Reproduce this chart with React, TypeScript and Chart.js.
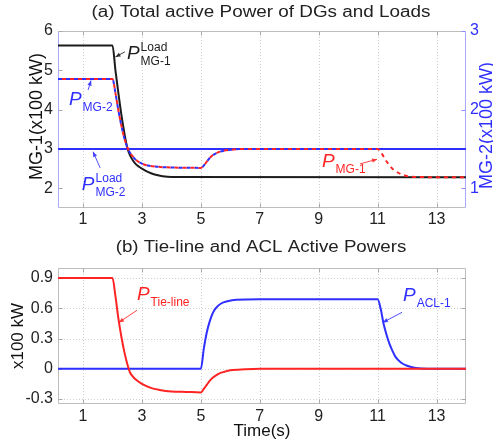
import React, { useEffect, useRef } from "react";
import { Chart, registerables } from "chart.js";
Chart.register(...registerables);

const FONT = "'Liberation Sans', Arial, Helvetica, sans-serif";
const RED = "#ff2424";
const BLUE = "#2f2fff";
const BLACK = "#1c1c1c";

// ---------- (a) Total active Power of DGs and Loads ----------
const tLoadMG1 = [0.15, 2.0, 2.1, 2.2, 2.3, 2.4, 2.5, 2.6, 2.7, 2.8, 2.9, 3.0, 3.2, 3.4, 3.7, 4.0, 14];
const pLoadMG1 = [5.63, 5.63, 5.0, 4.42, 3.88, 3.42, 3.04, 2.83, 2.7, 2.61, 2.55, 2.5, 2.42, 2.36, 2.31, 2.29, 2.28];

const tMG1 = [0.15, 2.0, 2.1, 2.2, 2.3, 2.4, 2.5, 2.6, 2.7, 2.8, 3.0, 3.2, 3.5, 4.0, 5.0, 5.1, 5.2, 5.3, 5.4, 5.6, 5.8, 6.0, 6.5, 11.0, 11.1, 11.2, 11.3, 11.4, 11.5, 11.6, 11.8, 12.0, 12.3, 14];
const pMG1 = [4.78, 4.78, 4.42, 3.98, 3.6, 3.28, 3.05, 2.9, 2.8, 2.72, 2.63, 2.58, 2.55, 2.53, 2.52, 2.58, 2.68, 2.77, 2.84, 2.92, 2.96, 2.98, 3.0, 3.0, 2.93, 2.81, 2.69, 2.59, 2.5, 2.44, 2.36, 2.31, 2.29, 2.28];

const tMG2 = [0.15, 2.0, 2.1, 2.2, 2.3, 2.4, 2.5, 2.6, 2.7, 2.8, 3.0, 3.2, 3.5, 4.0, 5.0, 5.1, 5.2, 5.3, 5.4, 5.6, 5.8, 6.0, 6.5, 14];
const pMG2 = [2.39, 2.39, 2.21, 1.99, 1.8, 1.64, 1.525, 1.45, 1.4, 1.36, 1.315, 1.29, 1.275, 1.265, 1.26, 1.29, 1.34, 1.385, 1.42, 1.46, 1.48, 1.49, 1.5, 1.5];

const tLoadMG2 = [0.15, 14];
const pLoadMG2 = [1.5, 1.5];

// ---------- (b) Tie-line and ACL Active Powers ----------
const tTie = [0.15, 2.0, 2.1, 2.2, 2.3, 2.4, 2.5, 2.6, 2.7, 2.8, 3.0, 3.3, 3.6, 4.0, 4.5, 5.0, 5.1, 5.2, 5.3, 5.4, 5.6, 5.8, 6.0, 6.5, 7.0, 14];
const pTie = [0.9, 0.9, 0.72, 0.5, 0.32, 0.17, 0.05, -0.04, -0.08, -0.11, -0.15, -0.19, -0.21, -0.225, -0.23, -0.235, -0.2, -0.16, -0.12, -0.09, -0.05, -0.03, -0.015, -0.005, 0, 0];

const tACL = [0.15, 5.0, 5.1, 5.2, 5.3, 5.4, 5.5, 5.7, 5.9, 6.2, 7.0, 11.0, 11.1, 11.2, 11.3, 11.4, 11.5, 11.6, 11.8, 12.0, 12.3, 12.7, 14];
const pACL = [0, 0, 0.2, 0.36, 0.47, 0.55, 0.6, 0.65, 0.67, 0.685, 0.69, 0.69, 0.6, 0.45, 0.34, 0.25, 0.18, 0.12, 0.06, 0.03, 0.008, 0, 0];

// ---------- ticks ----------
const xTicks = [1, 3, 5, 7, 9, 11, 13];
const yTicksA = [2, 3, 4, 5, 6];
const yTicksA2 = [1, 2, 3];
const yTicksB = [-0.3, 0, 0.3, 0.6, 0.9];

const pts = (t: number[], v: number[]) => t.map((x, i) => ({ x, y: v[i] }));

type Anno = { t: number; v: number; sup?: string; sub: string; color: string; arrow: number[] };

const annosA: Anno[] = [
  { t: 2.49, v: 5.3, sup: "Load", sub: "MG-1", color: BLACK, arrow: [2.42, 5.47, 2.1, 5.34] },
  { t: 0.52, v: 4.11, sub: "MG-2", color: BLUE, arrow: [1.17, 4.5, 1.27, 4.74] },
  { t: 0.96, v: 1.97, sup: "Load", sub: "MG-2", color: BLUE, arrow: [1.58, 2.52, 1.34, 2.93] },
  { t: 9.11, v: 2.53, sub: "MG-1", color: RED, arrow: [10.4, 2.62, 10.98, 2.74] },
];
const annosB: Anno[] = [
  { t: 2.83, v: 0.68, sub: "Tie-line", color: RED, arrow: [2.83, 0.58, 2.22, 0.46] },
  { t: 11.86, v: 0.67, sub: "ACL-1", color: BLUE, arrow: [11.83, 0.56, 11.18, 0.46] },
];

function drawArrow(ctx: CanvasRenderingContext2D, x1: number, y1: number, x2: number, y2: number, color: string) {
  ctx.save();
  ctx.strokeStyle = color;
  ctx.fillStyle = color;
  ctx.globalAlpha = 0.85;
  ctx.lineWidth = 1;
  ctx.beginPath();
  ctx.moveTo(x1, y1);
  ctx.lineTo(x2, y2);
  ctx.stroke();
  const a = Math.atan2(y2 - y1, x2 - x1);
  const L = 5, W = 2.2;
  ctx.beginPath();
  ctx.moveTo(x2, y2);
  ctx.lineTo(x2 - L * Math.cos(a) + W * Math.sin(a), y2 - L * Math.sin(a) - W * Math.cos(a));
  ctx.lineTo(x2 - L * Math.cos(a) - W * Math.sin(a), y2 - L * Math.sin(a) + W * Math.cos(a));
  ctx.closePath();
  ctx.fill();
  ctx.restore();
}

function drawAnnos(chart: any, annos: Anno[]) {
  const ctx: CanvasRenderingContext2D = chart.ctx;
  const xs = chart.scales.x, ys = chart.scales.y;
  annos.forEach((a) => {
    const x = xs.getPixelForValue(a.t), y = ys.getPixelForValue(a.v);
    ctx.save();
    ctx.fillStyle = a.color;
    ctx.textBaseline = "alphabetic";
    ctx.textAlign = "left";
    ctx.font = `italic 19px ${FONT}`;
    ctx.fillText("P", x, y);
    const pw = ctx.measureText("P").width;
    ctx.font = `12px ${FONT}`;
    if (a.sup) ctx.fillText(a.sup, x + pw + 1, y - 8);
    ctx.fillText(a.sub, x + pw + 1, y + 6);
    ctx.restore();
    const [t1, v1, t2, v2] = a.arrow;
    drawArrow(ctx, xs.getPixelForValue(t1), ys.getPixelForValue(v1), xs.getPixelForValue(t2), ys.getPixelForValue(v2), a.color);
  });
}

function drawFrame(chart: any, opts: { hGrid: boolean; leftColor: string; rightColor: string; right2?: boolean }) {
  const ctx: CanvasRenderingContext2D = chart.ctx;
  const { left, right, top, bottom } = chart.chartArea;
  const xs = chart.scales.x, ys = chart.scales.y;
  ctx.save();
  ctx.strokeStyle = "#cfcfcf";
  ctx.lineWidth = 1;
  ctx.setLineDash([1, 2]);
  xTicks.forEach((t) => {
    const px = Math.round(xs.getPixelForValue(t)) + 0.5;
    ctx.beginPath();
    ctx.moveTo(px, top);
    ctx.lineTo(px, bottom);
    ctx.stroke();
  });
  if (opts.hGrid) {
    ys.ticks.forEach((tk: any) => {
      const py = Math.round(ys.getPixelForValue(tk.value)) + 0.5;
      ctx.beginPath();
      ctx.moveTo(left, py);
      ctx.lineTo(right, py);
      ctx.stroke();
    });
  }
  ctx.setLineDash([]);
  const L = Math.round(left) + 0.5, R = Math.round(right) - 0.5, T = Math.round(top) + 0.5, B = Math.round(bottom) - 0.5;
  ctx.strokeStyle = "#bdbdbd";
  ctx.beginPath();
  ctx.moveTo(L, T); ctx.lineTo(R, T);
  ctx.moveTo(L, B); ctx.lineTo(R, B);
  ctx.stroke();
  ctx.strokeStyle = opts.leftColor;
  ctx.beginPath(); ctx.moveTo(L, T); ctx.lineTo(L, B); ctx.stroke();
  ctx.strokeStyle = opts.rightColor;
  ctx.beginPath(); ctx.moveTo(R, T); ctx.lineTo(R, B); ctx.stroke();
  ctx.strokeStyle = "#a8a8a8";
  xTicks.forEach((t) => {
    const px = Math.round(xs.getPixelForValue(t)) + 0.5;
    ctx.beginPath();
    ctx.moveTo(px, B); ctx.lineTo(px, B - 4);
    ctx.moveTo(px, T); ctx.lineTo(px, T + 4);
    ctx.stroke();
  });
  ys.ticks.forEach((tk: any) => {
    const py = Math.round(ys.getPixelForValue(tk.value)) + 0.5;
    ctx.beginPath();
    ctx.moveTo(L, py); ctx.lineTo(L + 4, py);
    if (!opts.right2) { ctx.moveTo(R, py); ctx.lineTo(R - 4, py); }
    ctx.stroke();
  });
  if (opts.right2) {
    const y2 = chart.scales.y1;
    ctx.strokeStyle = "#8c8cff";
    y2.ticks.forEach((tk: any) => {
      const py = Math.round(y2.getPixelForValue(tk.value)) + 0.5;
      ctx.beginPath();
      ctx.moveTo(R, py); ctx.lineTo(R - 4, py);
      ctx.stroke();
    });
  }
  ctx.restore();
}

function drawText(ctx: CanvasRenderingContext2D, text: string, x: number, y: number, font: string, color: string, rot = 0, sx = 1) {
  ctx.save();
  ctx.translate(x, y);
  ctx.rotate(rot);
  ctx.scale(sx, 1);
  ctx.font = font;
  ctx.fillStyle = color;
  ctx.textAlign = "center";
  ctx.textBaseline = "middle";
  ctx.fillText(text, 0, 0);
  ctx.restore();
}

const tickFont = { family: FONT, size: 16 };
const noGrid = { display: false, drawTicks: false };

function xScale(height: number, padding: number) {
  return {
    type: "linear" as const,
    min: 0.15,
    max: 14,
    grid: noGrid,
    border: { display: false },
    afterBuildTicks: (s: any) => { s.ticks = xTicks.map((v) => ({ value: v })); },
    afterFit: (s: any) => { s.height = height; },
    ticks: { font: tickFont, color: "#222", padding, maxRotation: 0, autoSkip: false },
  };
}

export default function App() {
  const refA = useRef<HTMLCanvasElement>(null);
  const refB = useRef<HTMLCanvasElement>(null);

  useEffect(() => {
    document.body.style.margin = "0";
    const base = { pointRadius: 0, fill: false, cubicInterpolationMode: "monotone" as const };

    const pluginA = {
      id: "frameA",
      beforeDatasetsDraw: (chart: any) => drawFrame(chart, { hGrid: false, leftColor: "#a9a9ff", rightColor: "#a9a9ff", right2: true }),
      afterDraw: (chart: any) => {
        const ctx = chart.ctx;
        const { left, right, top, bottom } = chart.chartArea;
        const cx = (left + right) / 2, cy = (top + bottom) / 2;
        drawText(ctx, "(a) Total active Power of DGs and Loads", cx - 1, 13, `16px ${FONT}`, "#222", 0, 1.18);
        drawText(ctx, "MG-1(x100 kW)", 37, cy - 3, `18px ${FONT}`, "#111", -Math.PI / 2);
        drawText(ctx, "MG-2(x100 kW)", 487, cy + 6, `18px ${FONT}`, BLUE, -Math.PI / 2);
        drawAnnos(chart, annosA);
      },
    };

    const chartA = new Chart(refA.current!, {
      type: "line",
      data: {
        datasets: [
          { ...base, label: "P_MG-1", data: pts(tMG1, pMG1), yAxisID: "y", borderColor: RED, borderWidth: 2, borderDash: [4, 4], borderDashOffset: 4, order: 0 },
          { ...base, label: "P_MG-2", data: pts(tMG2, pMG2), yAxisID: "y1", borderColor: BLUE, borderWidth: 2, borderDash: [4, 4], order: 1 },
          { ...base, label: "P_MG-2 Load", data: pts(tLoadMG2, pLoadMG2), yAxisID: "y1", borderColor: BLUE, borderWidth: 2, order: 2 },
          { ...base, label: "P_MG-1 Load", data: pts(tLoadMG1, pLoadMG1), yAxisID: "y", borderColor: BLACK, borderWidth: 2, order: 3 },
        ],
      },
      options: {
        animation: false,
        responsive: false,
        layout: { padding: { top: 31, left: 0, right: 0, bottom: 0 } },
        plugins: { legend: { display: false }, tooltip: { enabled: false } },
        scales: {
          x: xScale(20, 2),
          y: {
            position: "left",
            min: 1.5,
            max: 6,
            grid: noGrid,
            border: { display: false },
            afterBuildTicks: (s: any) => { s.ticks = yTicksA.map((v) => ({ value: v })); },
            afterFit: (s: any) => { s.width = 58; },
            ticks: { font: tickFont, color: "#222", padding: 5 },
          },
          y1: {
            position: "right",
            min: 0.75,
            max: 3,
            grid: noGrid,
            border: { display: false },
            afterBuildTicks: (s: any) => { s.ticks = yTicksA2.map((v) => ({ value: v })); },
            afterFit: (s: any) => { s.width = 27; },
            ticks: { font: tickFont, color: BLUE, padding: 4 },
          },
        },
      } as any,
      plugins: [pluginA],
    });

    const pluginB = {
      id: "frameB",
      beforeDatasetsDraw: (chart: any) => drawFrame(chart, { hGrid: true, leftColor: "#bdbdbd", rightColor: "#bdbdbd" }),
      afterDraw: (chart: any) => {
        const ctx = chart.ctx;
        const { left, right, top, bottom } = chart.chartArea;
        const cx = (left + right) / 2, cy = (top + bottom) / 2;
        drawText(ctx, "(b) Tie-line and ACL Active Powers", cx - 1, 20, `16px ${FONT}`, "#222", 0, 1.17);
        drawText(ctx, "x100 kW", 18, cy, `17px ${FONT}`, "#111", -Math.PI / 2);
        drawText(ctx, "Time(s)", cx, 203, `17px ${FONT}`, "#111");
        drawAnnos(chart, annosB);
      },
    };

    const chartB = new Chart(refB.current!, {
      type: "line",
      data: {
        datasets: [
          { ...base, label: "P_Tie-line", data: pts(tTie, pTie), borderColor: RED, borderWidth: 2, order: 0 },
          { ...base, label: "P_ACL-1", data: pts(tACL, pACL), borderColor: BLUE, borderWidth: 2, order: 1 },
        ],
      },
      options: {
        animation: false,
        responsive: false,
        layout: { padding: { top: 40, left: 0, right: 27, bottom: 0 } },
        plugins: { legend: { display: false }, tooltip: { enabled: false } },
        scales: {
          x: xScale(39, 3),
          y: {
            position: "left",
            min: -0.35,
            max: 1.0,
            grid: noGrid,
            border: { display: false },
            afterBuildTicks: (s: any) => { s.ticks = yTicksB.map((v) => ({ value: v })); },
            afterFit: (s: any) => { s.width = 58; },
            ticks: { font: tickFont, color: "#222", padding: 5, callback: (v: any) => String(v) },
          },
        },
      } as any,
      plugins: [pluginB],
    });

    return () => {
      chartA.destroy();
      chartB.destroy();
    };
  }, []);

  return (
    <div style={{ position: "absolute", left: 0, top: 0, width: 493, height: 443, background: "#fff" }}>
      <canvas ref={refA} width={493} height={228} style={{ position: "absolute", left: 0, top: 0, width: 493, height: 228 }} />
      <canvas ref={refB} width={493} height={215} style={{ position: "absolute", left: 0, top: 228, width: 493, height: 215 }} />
    </div>
  );
}
